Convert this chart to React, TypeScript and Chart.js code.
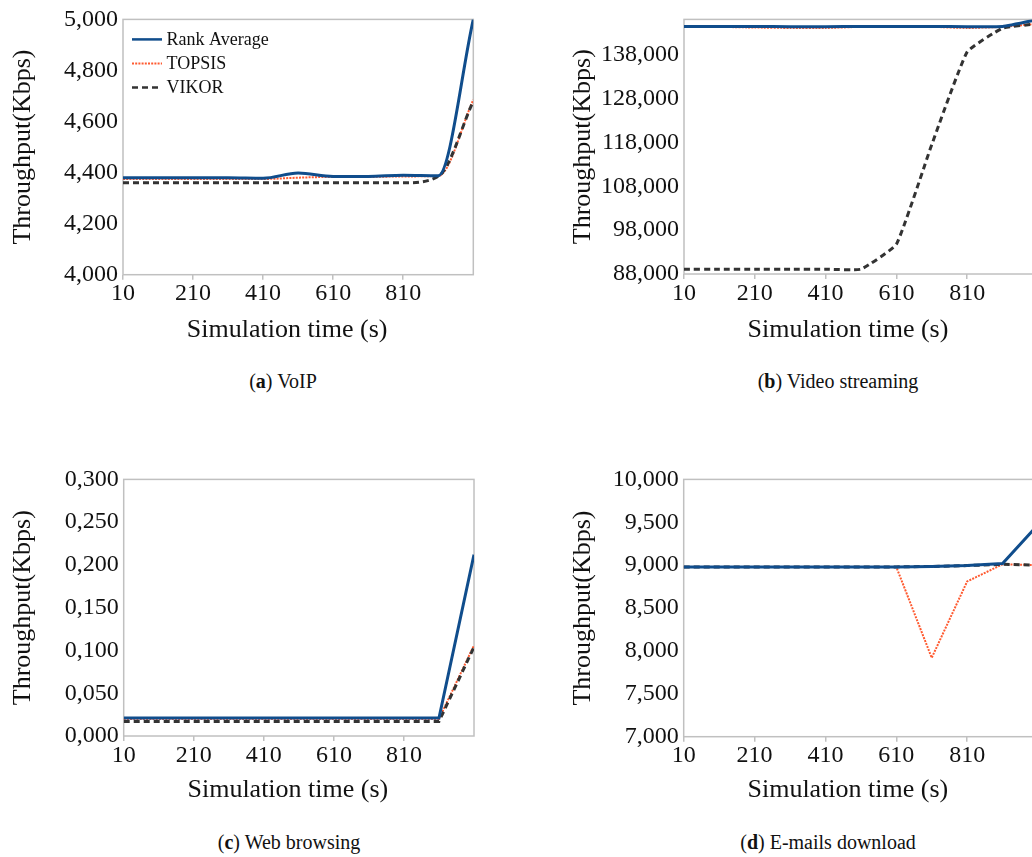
import React, { useEffect, useRef } from 'react';
import { Chart, registerables } from 'chart.js';

Chart.register(...registerables);

// ---------- data ----------
const simTimes = [10, 110, 210, 310, 410, 510, 610, 710, 810, 910, 1010];
const xTickValues = [10, 210, 410, 610, 810];
const seriesNames = ['Rank Average', 'TOPSIS', 'VIKOR'];
const xTitle = 'Simulation time (s)';
const yTitle = 'Throughput(Kbps)';

const voipRank = [4380, 4380, 4380, 4380, 4378, 4398, 4385, 4385, 4390, 4388, 5000];
const voipTopsis = [4375, 4375, 4375, 4375, 4375, 4380, 4383, 4383, 4385, 4387, 4685];
const voipVikor = [4360, 4360, 4360, 4360, 4360, 4360, 4360, 4360, 4360, 4385, 4680];
const voipYTicks = [4000, 4200, 4400, 4600, 4800, 5000];

const videoRank = [144400, 144400, 144400, 144350, 144350, 144400, 144400, 144400, 144350, 144400, 146000];
const videoTopsis = [144400, 144300, 144150, 144050, 144050, 144300, 144400, 144300, 144050, 144300, 145000];
const videoVikor = [89100, 89100, 89100, 89100, 89100, 89100, 94800, 117500, 138600, 144000, 145000];
const videoYTicks = [88000, 98000, 108000, 118000, 128000, 138000];

const webRank = [0.021, 0.021, 0.021, 0.021, 0.021, 0.021, 0.021, 0.021, 0.021, 0.021, 0.212];
const webTopsis = [0.02, 0.02, 0.02, 0.02, 0.02, 0.02, 0.02, 0.02, 0.02, 0.02, 0.106];
const webVikor = [0.017, 0.017, 0.017, 0.017, 0.017, 0.017, 0.017, 0.017, 0.017, 0.017, 0.104];
const webYTicks = [0, 0.05, 0.1, 0.15, 0.2, 0.25, 0.3];

const emailRank = [8980, 8980, 8980, 8980, 8980, 8980, 8980, 8985, 8995, 9020, 9470];
const emailTopsis = [8980, 8980, 8980, 8980, 8980, 8980, 8980, 7920, 8810, 9010, 9000];
const emailVikor = [8980, 8980, 8980, 8980, 8980, 8980, 8980, 8985, 8995, 9010, 9000];
const emailYTicks = [7000, 7500, 8000, 8500, 9000, 9500, 10000];

// ---------- styles ----------
const FONT = "'Liberation Serif', 'Times New Roman', serif";
const TEXT = '#111111';
const FRAME = '#c0c0c0';
const lineStyles = [
  { color: '#104d8c', width: 3, dash: [] as number[], order: 0 },
  { color: '#ff5a30', width: 2, dash: [2, 1.2], order: 2 },
  { color: '#333333', width: 3, dash: [6, 4], order: 1 },
];

const thousands = (v: number) => v.toLocaleString('en-US');
const decimalComma = (v: number) => v.toFixed(3).replace('.', ',');

type PanelCfg = {
  left: number; top: number; w: number; h: number;
  yAxisW: number; padTop: number; xAxisH: number; padRight: number; titleShift: number;
  yMin: number; yMax: number; yTicks: number[]; fmt: (v: number) => string;
  series: number[][]; legend: boolean; monotone: boolean; tension: number;
};

const panels: PanelCfg[] = [
  { left: 0, top: 0, w: 500, h: 350, yAxisW: 123, padTop: 14.5, xAxisH: 75.3, padRight: 26.7, titleShift: -11,
    yMin: 4000, yMax: 5000, yTicks: voipYTicks, fmt: thousands,
    series: [voipRank, voipTopsis, voipVikor], legend: true, monotone: true, tension: 0 },
  { left: 560, top: 0, w: 500, h: 350, yAxisW: 124, padTop: 13.7, xAxisH: 76, padRight: 22, titleShift: -13,
    yMin: 88000, yMax: 146000, yTicks: videoYTicks, fmt: thousands,
    series: [videoRank, videoTopsis, videoVikor], legend: false, monotone: false, tension: 0.12 },
  { left: 0, top: 460, w: 500, h: 350, yAxisW: 123.7, padTop: 15.3, xAxisH: 74, padRight: 26, titleShift: -11,
    yMin: 0, yMax: 0.3, yTicks: webYTicks, fmt: decimalComma,
    series: [webRank, webTopsis, webVikor], legend: false, monotone: false, tension: 0 },
  { left: 560, top: 460, w: 500, h: 350, yAxisW: 123.7, padTop: 16, xAxisH: 73.3, padRight: 22, titleShift: -13,
    yMin: 7000, yMax: 10000, yTicks: emailYTicks, fmt: thousands,
    series: [emailRank, emailTopsis, emailVikor], legend: false, monotone: false, tension: 0 },
];

const captions = [
  { letter: 'a', text: 'VoIP', cx: 283, cy: 381 },
  { letter: 'b', text: 'Video streaming', cx: 838, cy: 381 },
  { letter: 'c', text: 'Web browsing', cx: 289, cy: 842 },
  { letter: 'd', text: 'E-mails download', cx: 828, cy: 842 },
];

const framePlugin = {
  id: 'frame',
  beforeDatasetsDraw(chart: any) {
    const { ctx, chartArea } = chart;
    const { left, top, right, bottom } = chartArea;
    ctx.save();
    ctx.strokeStyle = FRAME;
    ctx.lineWidth = 1.5;
    ctx.strokeRect(left, top, right - left, bottom - top);
    ctx.restore();
  },
};

const makeXTitlePlugin = (shift: number) => ({
  id: 'xTitle',
  afterDraw(chart: any) {
    const { ctx, chartArea } = chart;
    const xs = chart.scales.x;
    ctx.save();
    ctx.fillStyle = TEXT;
    ctx.font = `26px ${FONT}`;
    ctx.textAlign = 'center';
    ctx.textBaseline = 'middle';
    ctx.fillText(xTitle, (chartArea.left + chartArea.right) / 2 + shift, xs.bottom - 4 - 15.6);
    ctx.restore();
  },
});

const legendPlugin = {
  id: 'innerLegend',
  afterDatasetsDraw(chart: any) {
    const { ctx, chartArea } = chart;
    const ds = chart.data.datasets;
    ctx.save();
    ds.forEach((d: any, i: number) => {
      const y = chartArea.top + 20 + i * 24;
      const x0 = chartArea.left + 9;
      ctx.beginPath();
      ctx.strokeStyle = d.borderColor;
      ctx.lineWidth = Math.min(d.borderWidth, 2.5);
      ctx.setLineDash(d.borderDash || []);
      ctx.moveTo(x0, y);
      ctx.lineTo(x0 + 30, y);
      ctx.stroke();
      ctx.setLineDash([]);
      ctx.fillStyle = TEXT;
      ctx.font = `18px ${FONT}`;
      ctx.textBaseline = 'middle';
      ctx.textAlign = 'left';
      ctx.fillText(d.label, x0 + 34.5, y + 1);
    });
    ctx.restore();
  },
};

function Panel({ cfg }: { cfg: PanelCfg }) {
  const ref = useRef<HTMLCanvasElement>(null);
  useEffect(() => {
    const canvas = ref.current;
    if (!canvas) return;
    const plugins: any[] = [framePlugin, makeXTitlePlugin(cfg.titleShift)];
    if (cfg.legend) plugins.push(legendPlugin);
    const chart = new Chart(canvas, {
      type: 'line',
      data: {
        datasets: cfg.series.map((vals, si) => ({
          label: seriesNames[si],
          data: simTimes.map((x, i) => ({ x, y: vals[i] })),
          borderColor: lineStyles[si].color,
          backgroundColor: lineStyles[si].color,
          borderWidth: lineStyles[si].width,
          borderDash: lineStyles[si].dash,
          order: lineStyles[si].order,
          pointRadius: 0,
          fill: false,
          cubicInterpolationMode: cfg.monotone ? 'monotone' : 'default',
          tension: cfg.tension,
        })),
      },
      options: {
        responsive: false,
        animation: false,
        layout: { padding: { top: cfg.padTop, right: cfg.padRight, left: 0, bottom: 0 } },
        plugins: { legend: { display: false }, tooltip: { enabled: false } },
        scales: {
          x: {
            type: 'linear',
            min: 10,
            max: 1010,
            afterBuildTicks: (s: any) => { s.ticks = xTickValues.map((v) => ({ value: v })); },
            afterFit: (s: any) => { s.height = cfg.xAxisH; },
            ticks: {
              autoSkip: false, maxRotation: 0, padding: 0, color: TEXT,
              font: { family: FONT, size: 24 },
              callback: (v: any) => String(v),
            },
            grid: { display: true, drawOnChartArea: false, drawTicks: true, tickLength: 5, color: FRAME, lineWidth: 1.5 },
            border: { display: false },
            title: { display: false },
          },
          y: {
            type: 'linear',
            min: cfg.yMin,
            max: cfg.yMax,
            afterBuildTicks: (s: any) => { s.ticks = cfg.yTicks.map((v) => ({ value: v })); },
            afterFit: (s: any) => { s.width = cfg.yAxisW; },
            ticks: {
              padding: 5, color: TEXT, font: { family: FONT, size: 24 },
              callback: (v: any) => cfg.fmt(Number(v)),
            },
            grid: { display: false, drawTicks: false },
            border: { display: false },
            title: {
              display: true, text: yTitle, color: TEXT,
              font: { family: FONT, size: 26 }, padding: { top: 7.4, bottom: 0 },
            },
          },
        },
      } as any,
      plugins,
    });
    return () => chart.destroy();
  }, [cfg]);
  return (
    <canvas
      ref={ref}
      width={cfg.w}
      height={cfg.h}
      style={{ position: 'absolute', left: cfg.left, top: cfg.top, width: cfg.w, height: cfg.h }}
    />
  );
}

export default function App() {
  return (
    <div style={{ position: 'fixed', left: 0, top: 0, width: 1032, height: 857, overflow: 'hidden', background: '#fff' }}>
      {panels.map((p, i) => <Panel key={i} cfg={p} />)}
      {captions.map((c) => (
        <div
          key={c.letter}
          style={{
            position: 'absolute', left: c.cx - 200, width: 400, top: c.cy - 12, height: 24,
            lineHeight: '24px', textAlign: 'center', fontFamily: FONT, fontSize: 20, color: TEXT,
          }}
        >
          (<b>{c.letter}</b>) {c.text}
        </div>
      ))}
    </div>
  );
}
